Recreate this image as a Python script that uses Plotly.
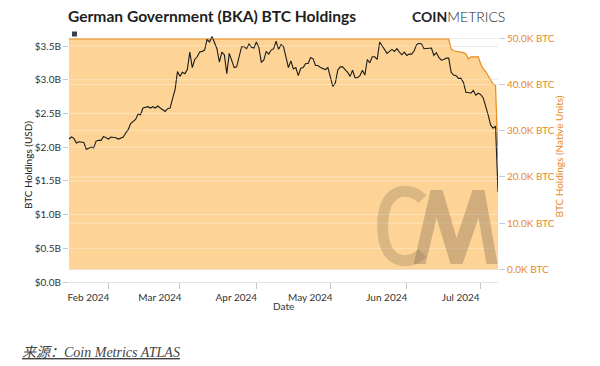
import pandas as pd
import plotly.graph_objects as go

# ---------------- data ----------------
usd_dates = pd.date_range("2024-01-16", "2024-07-08", freq="D")
usd_billions = [
    2.12, 2.15, 2.13, 2.06, 2.08, 2.08, 2.07, 1.97, 1.99, 2.00, 1.99, 2.09, 2.10, 2.10, 2.16, 2.14,  # Jan 16-31
    2.12, 2.15, 2.15, 2.14, 2.12, 2.13, 2.15, 2.21, 2.26, 2.35, 2.38, 2.41, 2.49, 2.48, 2.58, 2.59,
    2.60, 2.58, 2.60, 2.58, 2.61, 2.58, 2.56, 2.53, 2.57, 2.58, 2.72, 2.85, 3.12,                    # Feb
    3.05, 3.11, 3.09, 3.15, 3.41, 3.18, 3.30, 3.34, 3.41, 3.42, 3.44, 3.60, 3.56, 3.64, 3.56, 3.46,
    3.26, 3.41, 3.37, 3.09, 3.39, 3.27, 3.18, 3.19, 3.35, 3.49, 3.49, 3.46, 3.53, 3.48, 3.47,        # Mar
    3.56, 3.48, 3.26, 3.29, 3.42, 3.38, 3.44, 3.46, 3.57, 3.45, 3.52, 3.49, 3.35, 3.18, 3.28, 3.16,
    3.18, 3.06, 3.17, 3.18, 3.24, 3.24, 3.33, 3.31, 3.21, 3.21, 3.18, 3.16, 3.15, 3.18,              # Apr
    3.02, 2.90, 2.95, 3.14, 3.19, 3.19, 3.15, 3.11, 3.05, 3.14, 3.03, 3.03, 3.06, 3.14, 3.07, 3.30,
    3.25, 3.34, 3.34, 3.30, 3.56, 3.50, 3.45, 3.39, 3.42, 3.45, 3.42, 3.46, 3.41, 3.37, 3.41,        # May
    3.36, 3.38, 3.38, 3.43, 3.52, 3.54, 3.53, 3.46, 3.46, 3.47, 3.47, 3.36, 3.40, 3.33, 3.29, 3.30,
    3.32, 3.32, 3.11, 3.07, 3.06, 3.02, 3.02, 2.96, 2.81, 2.81, 2.80, 2.84, 2.77, 2.80,              # Jun
    2.78, 2.73, 2.62, 2.48, 2.33, 2.28, 2.31, 1.34,                                                  # Jul 1-8
]

btc_dates = [
    "2024-01-16", "2024-06-18", "2024-06-19", "2024-06-20", "2024-06-21", "2024-06-22",
    "2024-06-23", "2024-06-24", "2024-06-25", "2024-06-26", "2024-06-27", "2024-06-28",
    "2024-06-29", "2024-06-30", "2024-07-01", "2024-07-02", "2024-07-03", "2024-07-04",
    "2024-07-05", "2024-07-06", "2024-07-07", "2024-07-08",
]
btc_thousands = [
    49.86, 49.86, 47.7, 47.3, 47.2, 47.1, 47.0, 46.9, 46.6, 45.5, 46.0, 46.0,
    46.0, 46.0, 44.4, 43.4, 42.8, 41.9, 40.7, 40.1, 39.8, 24.0,
]

usd_tickvals = [0, 0.5, 1.0, 1.5, 2.0, 2.5, 3.0, 3.5]
usd_ticktext = ["$0.0B", "$0.5B", "$1.0B", "$1.5B", "$2.0B", "$2.5B", "$3.0B", "$3.5B"]
btc_tickvals = [0, 10, 20, 30, 40, 50]
btc_ticktext = ["0.0K BTC", "10.0K BTC", "20.0K BTC", "30.0K BTC", "40.0K BTC", "50.0K BTC"]
month_ticks = ["2024-02-01", "2024-03-01", "2024-04-01", "2024-05-01", "2024-06-01", "2024-07-01"]
month_labels = ["Feb 2024", "Mar 2024", "Apr 2024", "May 2024", "Jun 2024", "Jul 2024"]

# ---------------- styles ----------------
ORANGE = "#E68A1E"
FILL = "#FDD496"
FONT = "Lato, 'Open Sans', sans-serif"

# plot-area geometry in page pixels (for decorations)
PL, PR, PT, PB = 69, 498.5, 34, 282


def px(x):
    return (x - PL) / (PR - PL)


def py(y):
    return (PB - y) / (PB - PT)


fig = go.Figure()

# BTC holdings (native units) -> base axis y, shown on right
fig.add_trace(go.Scatter(
    x=btc_dates, y=btc_thousands, yaxis="y", mode="lines",
    line=dict(color=ORANGE, width=1.2), fill="tozeroy", fillcolor=FILL,
    showlegend=False, hoverinfo="skip",
))
# BTC holdings (USD) -> overlay axis y2, shown on left
fig.add_trace(go.Scatter(
    x=usd_dates, y=usd_billions, yaxis="y2", mode="lines",
    line=dict(color="#1b1b1b", width=1.1), showlegend=False,
))

# lighter gridlines drawn over the area fill
for v in usd_tickvals[1:]:
    fig.add_shape(type="line", xref="paper", x0=0, x1=1, yref="y2", y0=v, y1=v,
                  line=dict(color="rgba(255,255,255,0.35)", width=1), layer="above")
for v in btc_tickvals[1:]:
    fig.add_shape(type="line", xref="paper", x0=0, x1=1, yref="y", y0=v, y1=v,
                  line=dict(color="rgba(255,255,255,0.35)", width=1), layer="above")

# watermark logo (C + zigzag M)
c_path = (f"M {px(423)},{py(199)} "
          f"C {px(410)},{py(186)} {px(383)},{py(186)} {px(383)},{py(226)} "
          f"C {px(383)},{py(266)} {px(410)},{py(266)} {px(423)},{py(253)}")
fig.add_shape(type="path", xref="paper", yref="paper", path=c_path,
              line=dict(color="rgba(130,105,80,0.28)", width=11), layer="above")
m_pts = [(414, 264), (431, 190), (443, 190), (457, 238), (473, 190), (485, 190),
         (498, 264), (487, 264), (479, 218), (463, 264), (451, 264), (437, 218), (426, 264)]
m_path = "M " + " L ".join(f"{px(x)},{py(y)}" for x, y in m_pts) + " Z"
fig.add_shape(type="path", xref="paper", yref="paper", path=m_path,
              fillcolor="rgba(130,105,80,0.36)", line=dict(width=0), layer="above")

fig.update_layout(
    width=600, height=366,
    margin=dict(l=PL, r=600 - PR, t=PT, b=366 - PB),
    paper_bgcolor="white", plot_bgcolor="white",
    font=dict(family=FONT, size=10, color="#333"),
    title=dict(text="<b>German Government (BKA) BTC Holdings</b>",
               x=68 / 600, xanchor="left", xref="container",
               y=1 - 17 / 366, yanchor="middle", yref="container",
               font=dict(family=FONT, size=15.6, color="#1e1e1e")),
    xaxis=dict(
        type="date", range=["2024-01-16", "2024-07-08"],
        tickvals=month_ticks, ticktext=month_labels,
        ticks="outside", ticklen=6, tickcolor="#c8c8c8",
        ticklabelshift=-20, ticklabelstandoff=0,
        showline=True, linecolor="#e2e2e2", linewidth=1,
        showgrid=False, zeroline=False,
        tickfont=dict(size=10, color="#333"),
        automargin=False,
    ),
    yaxis=dict(
        side="right", range=[-2.75, 50.93],
        tickvals=btc_tickvals, ticktext=btc_ticktext,
        ticks="outside", ticklen=6, tickcolor="#c8cbd8",
        tickfont=dict(size=10, color=ORANGE),
        showgrid=True, gridcolor="#e3e5ee", gridwidth=1,
        zeroline=False, showline=False,
        automargin=False,
    ),
    yaxis2=dict(
        overlaying="y", side="left", range=[0, 3.678],
        tickvals=usd_tickvals, ticktext=usd_ticktext,
        ticks="outside", ticklen=5, tickcolor="#c8c8c8",
        tickfont=dict(size=10, color="#333"),
        showgrid=True, gridcolor="#e3e5ee", gridwidth=1,
        zeroline=False, showline=False,
        automargin=False,
    ),
)

# axis titles
fig.add_annotation(text="Date", xref="paper", yref="paper", x=px(284), y=py(306),
                   xanchor="center", yanchor="middle", showarrow=False,
                   font=dict(size=10, color="#333"))
fig.add_annotation(text="BTC Holdings (USD)", xref="paper", yref="paper",
                   x=px(28), y=py(165), textangle=-90,
                   xanchor="center", yanchor="middle", showarrow=False,
                   font=dict(size=10, color="#222"))
fig.add_annotation(text="BTC Holdings (Native Units)", xref="paper", yref="paper",
                   x=px(560), y=py(156), textangle=-90,
                   xanchor="center", yanchor="middle", showarrow=False,
                   font=dict(size=10, color=ORANGE))

# legend-like marker square
fig.add_shape(type="rect", xref="paper", yref="paper",
              x0=px(72), x1=px(77), y0=py(36.5), y1=py(31.5),
              fillcolor="#3b4152", line=dict(width=0), layer="above")

# brand mark
fig.add_annotation(text="<b>COIN</b><span style='font-weight:300'>METRICS</span>",
                   xref="paper", yref="paper", x=px(410), xanchor="left",
                   y=py(17), yanchor="middle", showarrow=False,
                   font=dict(family=FONT, size=14, color="#222"))

# source caption
fig.add_annotation(text="<i><u>来源：Coin Metrics ATLAS</u></i>",
                   xref="paper", yref="paper", x=px(20), xanchor="left",
                   y=py(352), yanchor="middle", showarrow=False,
                   font=dict(family="'Liberation Serif', 'Noto Sans CJK SC', serif",
                             size=14, color="#444"))

fig.write_html("out.html",
               config={"displayModeBar": False},
               post_script="document.body.style.margin='0px';document.body.style.overflow='hidden';")
